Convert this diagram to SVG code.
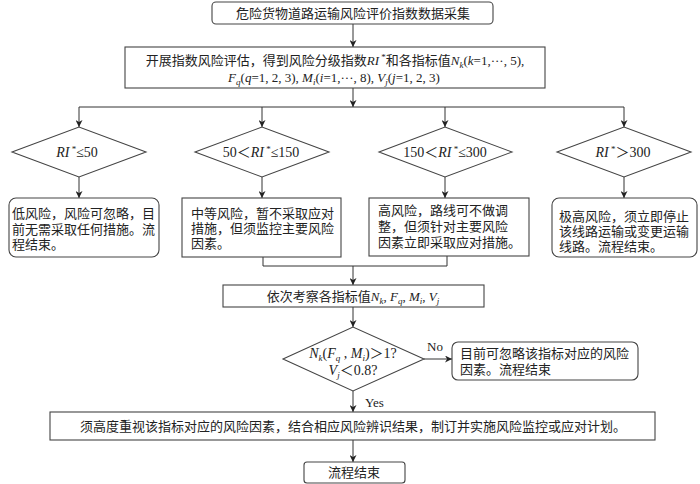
<svg xmlns="http://www.w3.org/2000/svg" width="700" height="484" viewBox="0 0 700 484">
<style>
text{font-family:"Liberation Serif","Noto Sans CJK SC",serif;font-size:13px;fill:#222}
.c{text-anchor:middle}
.d{font-size:14px}
.b{fill:#fff;stroke:#444;stroke-width:1.1}
.l{fill:none;stroke:#333;stroke-width:1}
.i{font-style:italic}
</style>
<defs>
<marker id="a" viewBox="0 0 10 10" refX="10" refY="5" markerWidth="7" markerHeight="7" markerUnits="userSpaceOnUse" orient="auto">
<path d="M0,0 L10,5 L0,10 L3,5 z" fill="#222"/>
</marker>
</defs>
<rect width="700" height="484" fill="#fff"/>
<g id="connectors">
<line class="l" x1="353" y1="24" x2="353" y2="47" marker-end="url(#a)"/>
<line class="l" x1="353" y1="88" x2="353" y2="107" marker-end="url(#a)"/>
<polyline class="l" points="79,107 624,107"/>
<line class="l" x1="79" y1="107" x2="79" y2="127" marker-end="url(#a)"/>
<line class="l" x1="262" y1="107" x2="262" y2="127" marker-end="url(#a)"/>
<line class="l" x1="445" y1="107" x2="445" y2="127" marker-end="url(#a)"/>
<line class="l" x1="624" y1="107" x2="624" y2="127" marker-end="url(#a)"/>
<line class="l" x1="79" y1="177" x2="79" y2="198" marker-end="url(#a)"/>
<line class="l" x1="262" y1="177" x2="262" y2="198" marker-end="url(#a)"/>
<line class="l" x1="445" y1="177" x2="445" y2="198" marker-end="url(#a)"/>
<line class="l" x1="624" y1="177" x2="624" y2="198" marker-end="url(#a)"/>
<polyline class="l" points="263,257 263,266 447,266 447,256"/>
<line class="l" x1="353" y1="266" x2="353" y2="285" marker-end="url(#a)"/>
<line class="l" x1="353" y1="307" x2="353" y2="327" marker-end="url(#a)"/>
<line class="l" x1="424" y1="359" x2="452" y2="359" marker-end="url(#a)"/>
<line class="l" x1="353" y1="391" x2="353" y2="412" marker-end="url(#a)"/>
<line class="l" x1="353" y1="440" x2="353" y2="462" marker-end="url(#a)"/>
<text x="427" y="351">No</text>
<text x="365" y="407">Yes</text>
</g>
<g id="start">
<rect class="b" x="212" y="2" width="281" height="22" rx="4"/>
<text class="c" x="353" y="18">危险货物道路运输风险评价指数数据采集</text>
</g>
<g id="assess">
<rect class="b" x="125" y="47" width="420" height="41"/>
<text class="c" x="335" y="65">开展指数风险评估，得到风险分级指数<tspan class="i">RI</tspan><tspan dy="-5" font-size="9"> *</tspan><tspan dy="5">和各指标值</tspan><tspan class="i">N</tspan><tspan class="i" dy="3" font-size="9">k</tspan><tspan dy="-3">(</tspan><tspan class="i">k</tspan>=1,···, 5),</text>
<text class="c" x="334" y="82"><tspan class="i">F</tspan><tspan class="i" dy="3" font-size="9">q</tspan><tspan dy="-3">(</tspan><tspan class="i">q</tspan>=1, 2, 3), <tspan class="i">M</tspan><tspan class="i" dy="3" font-size="9">i</tspan><tspan dy="-3">(</tspan><tspan class="i">i</tspan>=1,···, 8), <tspan class="i">V</tspan><tspan class="i" dy="3" font-size="9">j</tspan><tspan dy="-3">(</tspan><tspan class="i">j</tspan>=1, 2, 3)</text>
</g>
<g id="d1">
<polygon class="b" points="12,152 79,127 146,152 79,177"/>
<text class="c d" x="77" y="157"><tspan class="i">RI</tspan><tspan dy="-5" font-size="9"> *</tspan><tspan dy="5">≤50</tspan></text>
</g>
<g id="d2">
<polygon class="b" points="195,152 262,127 329,152 262,177"/>
<text class="c d" x="261" y="157">50＜<tspan class="i">RI</tspan><tspan dy="-5" font-size="9"> *</tspan><tspan dy="5">≤150</tspan></text>
</g>
<g id="d3">
<polygon class="b" points="379,152 445,127 512,152 445,177"/>
<text class="c d" x="445" y="157">150＜<tspan class="i">RI</tspan><tspan dy="-5" font-size="9"> *</tspan><tspan dy="5">≤300</tspan></text>
</g>
<g id="d4">
<polygon class="b" points="557,152 624,127 691,152 624,177"/>
<text class="c d" x="623" y="157"><tspan class="i">RI</tspan><tspan dy="-5" font-size="9"> *</tspan><tspan dy="5">＞300</tspan></text>
</g>
<g id="low">
<rect class="b" x="9" y="198" width="150" height="59" rx="7"/>
<text x="12" y="218">低风险，风险可忽略，目</text>
<text x="12" y="234">前无需采取任何措施。流</text>
<text x="12" y="249">程结束。</text>
</g>
<g id="medium">
<rect class="b" x="182" y="198" width="159" height="59"/>
<text x="191" y="218">中等风险，暂不采取应对</text>
<text x="191" y="233">措施，但须监控主要风险</text>
<text x="191" y="248">因素。</text>
</g>
<g id="high">
<rect class="b" x="369" y="198" width="160" height="58"/>
<text x="378" y="215">高风险，路线可不做调</text>
<text x="378" y="231">整，但须针对主要风险</text>
<text x="378" y="247">因素立即采取应对措施。</text>
</g>
<g id="veryhigh">
<rect class="b" x="552" y="198" width="145" height="59" rx="7"/>
<text x="559" y="221">极高风险，须立即停止</text>
<text x="559" y="236">该线路运输或变更运输</text>
<text x="559" y="251">线路。流程结束。</text>
</g>
<g id="examine">
<rect class="b" x="223" y="285" width="261" height="22"/>
<text class="c" x="353" y="301">依次考察各指标值<tspan class="i">N</tspan><tspan class="i" dy="3" font-size="9">k</tspan><tspan dy="-3">, </tspan><tspan class="i">F</tspan><tspan class="i" dy="3" font-size="9">q</tspan><tspan dy="-3">, </tspan><tspan class="i">M</tspan><tspan class="i" dy="3" font-size="9">i</tspan><tspan dy="-3">, </tspan><tspan class="i">V</tspan><tspan class="i" dy="3" font-size="9">j</tspan></text>
</g>
<g id="d5">
<polygon class="b" points="283,359 353,327 424,359 353,391"/>
<text class="c d" x="353" y="358"><tspan class="i">N</tspan><tspan class="i" dy="3" font-size="9">k</tspan><tspan dy="-3">(</tspan><tspan class="i">F</tspan><tspan class="i" dy="3" font-size="9">q</tspan><tspan dy="-3"> , </tspan><tspan class="i">M</tspan><tspan class="i" dy="3" font-size="9">i</tspan><tspan dy="-3">)＞1?</tspan></text>
<text class="c d" x="353" y="375"><tspan class="i">V</tspan><tspan class="i" dy="3" font-size="9">j</tspan><tspan dy="-3">＜0.8?</tspan></text>
</g>
<g id="ignore">
<rect class="b" x="452" y="342" width="186" height="38" rx="6"/>
<text x="460" y="358">目前可忽略该指标对应的风险</text>
<text x="460" y="374">因素。流程结束</text>
</g>
<g id="attention">
<rect class="b" x="50" y="412" width="605" height="28"/>
<text class="c" x="353" y="431">须高度重视该指标对应的风险因素，结合相应风险辨识结果，制订并实施风险监控或应对计划。</text>
</g>
<g id="end">
<rect class="b" x="304" y="462" width="101" height="21" rx="3"/>
<text class="c" x="354" y="477">流程结束</text>
</g>
</svg>
